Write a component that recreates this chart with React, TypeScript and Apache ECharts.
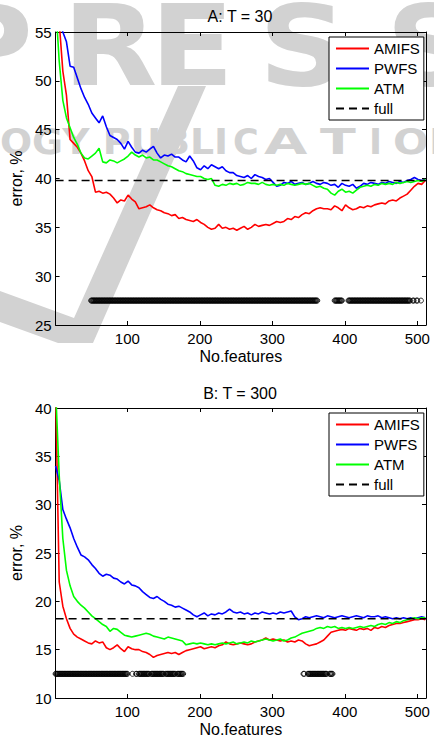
import React, { useEffect, useRef } from "react";
import * as echarts from "echarts";

const FONT = '"Liberation Sans", Arial, Helvetica, sans-serif';

// feature counts sampled every 5 features (1, 6, 11, ... 511)
const FEATURES: number[] = Array.from({ length: 103 }, (_, i) => 1 + 5 * i);

const X_TICKS = [100, 200, 300, 400, 500];

// ---- Panel A: T = 30 ----
const A_AMIFS = [
  58, 56, 51, 48.5, 44, 43.6, 43.2, 42.6, 41.8, 40.8,
  40.2, 38.6, 38.7, 38.5, 38.6, 38.4, 38.0, 37.5, 37.8, 37.7,
  38.3, 37.9, 37.6, 36.9, 37.0, 37.1, 37.3, 37.0, 36.8, 36.7,
  36.5, 36.4, 36.2, 36.3, 35.9, 36.0, 35.8, 35.7, 35.6, 35.8,
  35.5, 35.3, 35.0, 34.8, 34.9, 35.3, 34.9, 35.0, 34.8, 34.9,
  34.7, 34.9, 35.1, 34.8, 35.0, 35.3, 35.1, 35.2, 35.3, 35.2,
  35.4, 35.6, 35.5, 35.6, 35.9, 35.8, 36.1, 36.0, 36.3, 36.5,
  36.4, 36.7, 36.9, 37.0, 36.9, 36.9, 36.8, 37.2, 37.0, 36.7,
  37.3, 37.0, 36.8, 36.9, 37.1, 37.0, 37.2, 37.1, 37.3, 37.4,
  37.5, 37.4, 37.7, 37.8, 37.7, 38.0, 38.2, 38.4, 38.8, 39.2,
  39.5, 39.4, 39.8,
];
const A_PWFS = [
  58, 56, 55, 54, 51.5, 51.4, 50.3, 49.2, 48.3, 47.6,
  46.7, 46.2, 45.7, 46.4, 45.3, 44.4, 44.2, 44.0, 43.6, 43.0,
  43.8, 43.2, 42.7, 42.6, 42.9, 42.7, 43.0, 43.3, 42.6, 42.1,
  42.4, 42.3, 42.5, 42.2, 42.2, 41.9, 41.7, 42.3, 41.8, 41.1,
  40.9, 41.3, 41.0, 41.4, 41.2, 41.0, 41.2, 40.8, 40.6, 40.6,
  40.3, 40.2, 40.1, 40.3, 40.0, 40.4, 40.2, 40.1, 39.9, 40.0,
  39.6, 39.2, 39.3, 39.6, 39.5, 39.7, 39.4, 39.5, 39.6, 39.4,
  39.5, 39.7, 39.5, 39.4, 39.6, 39.5, 39.3, 39.4, 39.1, 39.5,
  39.3, 39.2, 39.4, 39.0, 39.2, 39.5, 39.4, 39.6, 39.5, 39.4,
  39.6, 39.5, 39.7, 39.6, 39.5, 39.7, 39.6, 39.8, 39.9, 40.1,
  39.9, 39.8, 39.9,
];
const A_ATM = [
  58, 52, 48, 46.2, 45.2, 44.2, 43.5, 42.6, 42.1, 42.0,
  42.3, 42.6, 43.1, 41.7, 41.6, 41.9, 41.8, 41.6, 41.8, 42.0,
  42.3, 42.7, 42.4, 42.2, 42.4, 42.1, 42.2, 41.9, 41.9, 41.7,
  41.5, 41.3, 41.2, 41.0, 40.8, 40.7, 40.5, 40.4, 40.3, 40.2,
  40.2, 40.0, 39.9, 40.0, 39.3, 39.2, 39.4, 39.3, 39.5, 39.4,
  39.5, 39.3, 39.4, 39.6, 39.5, 39.5, 39.4, 39.6, 39.4, 39.3,
  39.4, 39.3, 39.4, 39.3, 39.5, 39.4, 39.3, 39.4, 39.5, 39.4,
  39.5, 39.3, 39.1, 39.2, 39.0, 38.9, 38.5, 38.3, 38.7, 38.9,
  38.6, 38.7, 38.5, 38.8, 39.1, 39.2, 39.3, 39.2, 39.4, 39.3,
  39.5, 39.4, 39.5, 39.4, 39.6, 39.5, 39.6, 39.7, 39.6, 39.7,
  39.8, 39.7, 39.9,
];
const A_FULL = 39.8;
const A_MARK_Y = 27.5;
const A_MARK_RANGES = [[50, 362], [386, 396], [405, 490], [494, 495], [499, 500], [505, 505]];

// ---- Panel B: T = 300 ----
const B_AMIFS = [
  42, 22, 19.5, 18.2, 17.2, 16.6, 16.3, 16.1, 15.9, 15.7,
  15.6, 15.9, 15.7, 15.8, 15.2, 15.0, 15.2, 15.5, 15.1, 14.8,
  15.3, 15.1, 15.0, 15.0, 14.8, 14.7, 14.5, 14.2, 14.4, 14.5,
  14.6, 14.7, 14.6, 14.7, 14.5, 14.7, 14.9, 15.0, 15.1, 15.2,
  15.3, 15.1, 15.2, 15.3, 15.2, 15.4, 15.5, 15.8, 15.6, 15.5,
  15.6, 15.7, 15.6, 15.5, 15.6, 15.8, 15.9, 16.0, 16.2, 16.0,
  16.1, 16.0, 15.9, 16.0, 15.8, 15.9, 15.8, 16.0, 15.9, 15.6,
  15.4, 15.5, 15.6, 15.8, 16.0, 16.4, 16.8, 16.9, 17.0, 17.1,
  17.0, 17.2, 17.1, 17.0, 17.2, 17.1, 17.2, 17.0, 17.3, 17.2,
  17.4, 17.3, 17.5, 17.6, 17.7, 17.7, 17.8, 17.9, 18.0, 18.1,
  18.1, 18.2, 18.1,
];
const B_PWFS = [
  34, 32.5, 29.5, 28.5, 27.6, 26.5, 25.6, 24.8, 24.6, 24.3,
  23.8, 23.4, 22.9, 22.6, 22.8, 22.7, 22.4, 22.3, 22.0, 21.8,
  22.1, 21.7, 21.6, 21.4, 21.0, 20.7, 20.4, 20.3, 20.5, 20.2,
  20.0, 19.7, 19.6, 19.4, 19.5, 19.3, 19.1, 18.9, 18.6, 18.4,
  18.6, 18.8, 18.5, 18.7, 18.6, 18.8, 18.7, 18.9, 19.2, 18.9,
  18.8, 18.9, 18.7, 18.8, 18.6, 18.8, 18.7, 18.9, 18.8, 18.7,
  18.8, 18.7, 18.9, 18.8, 18.9, 19.0, 18.4, 18.1, 18.2, 18.4,
  18.3, 18.4, 18.5, 18.4, 18.3, 18.5, 18.4, 18.3, 18.4, 18.5,
  18.4, 18.3, 18.4, 18.5, 18.4, 18.3, 18.5, 18.4, 18.4, 18.5,
  18.3, 18.4, 18.3, 18.2, 18.3, 18.2, 18.3, 18.2, 18.3, 18.2,
  18.3, 18.4, 18.3,
];
const B_ATM = [
  42, 33, 26.5, 23.2, 21.6, 20.5, 20.0, 19.6, 19.3, 18.9,
  18.5, 18.2, 17.9, 17.6, 17.4, 16.9, 17.2, 17.1, 16.8, 16.5,
  16.4, 16.3, 16.4, 16.5, 16.6, 16.7, 16.6, 16.4, 16.3, 16.2,
  16.1, 16.3, 16.2, 16.1, 16.0, 15.9, 15.5, 15.6, 15.7, 15.6,
  15.7, 15.6, 15.5, 15.6, 15.5, 15.6, 15.7, 15.6, 15.7, 15.8,
  15.6, 15.7, 15.8, 15.7, 15.9, 15.8, 15.9, 16.0, 16.1, 16.0,
  15.9, 16.0, 16.1, 15.9, 16.0, 16.2, 16.3, 16.5, 16.7, 16.8,
  16.9, 17.0, 17.2, 17.3, 17.2, 17.4, 17.3, 17.4, 17.2, 17.3,
  17.2, 17.3, 17.2, 17.3, 17.4, 17.3, 17.4, 17.5, 17.4, 17.6,
  17.7, 17.6, 17.8, 17.7, 17.9, 17.8, 18.0, 18.1, 18.2, 18.3,
  18.2, 18.3, 18.3,
];
const B_FULL = 18.2;
const B_MARK_Y = 12.5;
const B_MARK_RANGES = [[1, 100], [107, 107], [112, 113], [116, 130], [133, 150], [153, 166], [169, 177], [343, 344], [349, 375], [379, 383]];

const NAMES = ["AMIFS", "PWFS", "ATM", "full"];
const COLORS = ["#ff0000", "#0000ff", "#00ff00", "#000000"];

function expandRanges(ranges: number[][], y: number) {
  const out: number[][] = [];
  ranges.forEach(([a, b]) => {
    for (let f = a; f <= b; f++) out.push([f, y]);
  });
  return out;
}

function buildPanel(idx: number, series: number[][], full: number, markY: number, ranges: number[][]) {
  const xi = idx * 2;
  const yi = idx * 2;
  const res: any[] = series.map((vals, k) => ({
    type: "line",
    name: NAMES[k],
    xAxisIndex: xi,
    yAxisIndex: yi,
    data: FEATURES.map((x, i) => [x, vals[i]]),
    showSymbol: false,
    symbol: "none",
    clip: true,
    lineStyle: { color: COLORS[k], width: 1.6 },
    itemStyle: { color: COLORS[k] },
    z: 3,
  }));
  res.push({
    type: "line",
    name: "full",
    xAxisIndex: xi,
    yAxisIndex: yi,
    data: [[1, full], [512, full]],
    showSymbol: false,
    symbol: "none",
    lineStyle: { color: "#000", width: 1.6, type: [8, 5] },
    itemStyle: { color: "#000" },
    z: 4,
  });
  res.push({
    type: "scatter",
    name: "marks" + idx,
    xAxisIndex: xi,
    yAxisIndex: yi,
    data: expandRanges(ranges, markY),
    symbol: "circle",
    symbolSize: 5,
    itemStyle: { color: "rgba(255,255,255,0)", borderColor: "#000", borderWidth: 1 },
    z: 5,
  });
  return res;
}

const axisLineStyle = { show: true, onZero: false, lineStyle: { color: "#000", width: 1 } };
const tickStyle = { show: true, inside: true, length: 4, lineStyle: { color: "#000", width: 1 } };

function xAxes(grid: number) {
  return [
    {
      type: "value", gridIndex: grid, position: "bottom", min: 1, max: 512,
      axisLine: axisLineStyle,
      axisTick: { ...tickStyle, customValues: X_TICKS },
      axisLabel: { customValues: X_TICKS, color: "#000", fontSize: 15, fontFamily: FONT, margin: 6 },
      splitLine: { show: false },
      name: "No.features", nameLocation: "middle", nameGap: 23,
      nameTextStyle: { color: "#000", fontSize: 16, fontFamily: FONT },
    },
    {
      type: "value", gridIndex: grid, position: "top", min: 1, max: 512,
      axisLine: axisLineStyle,
      axisTick: { ...tickStyle, customValues: X_TICKS },
      axisLabel: { show: false },
      splitLine: { show: false },
    },
  ];
}

function yAxes(grid: number, min: number, max: number) {
  return [
    {
      type: "value", gridIndex: grid, position: "left", min, max, interval: 5,
      axisLine: axisLineStyle,
      axisTick: tickStyle,
      axisLabel: { color: "#000", fontSize: 15, fontFamily: FONT, margin: 4 },
      splitLine: { show: false },
      name: "error, %", nameLocation: "middle", nameGap: 27,
      nameTextStyle: { color: "#000", fontSize: 16, fontFamily: FONT },
    },
    {
      type: "value", gridIndex: grid, position: "right", min, max, interval: 5,
      axisLine: axisLineStyle,
      axisTick: tickStyle,
      axisLabel: { show: false },
      splitLine: { show: false },
    },
  ];
}

function legend(top: number) {
  return {
    data: NAMES,
    orient: "vertical",
    left: 329,
    top,
    itemWidth: 33,
    itemHeight: 14,
    itemGap: 5,
    padding: [4, 4, 4, 6],
    backgroundColor: "#ffffff",
    borderColor: "#000",
    borderWidth: 1,
    borderRadius: 0,
    itemStyle: { opacity: 0 },
    textStyle: { color: "#000", fontSize: 15, fontFamily: FONT },
    z: 20,
  };
}

const WM = "#d2d2d2";
function watermark() {
  const big = [
    { ch: "P", cx: -12 },
    { ch: "R", cx: 110 },
    { ch: "E", cx: 192 },
    { ch: "S", cx: 303 },
    { ch: "S", cx: 430 },
  ].map((l) => ({
    type: "text", x: l.cx, y: 46, scaleX: 1.1, z: -5, silent: true,
    style: { text: l.ch, fill: WM, font: 'bold 112px "DejaVu Sans"', textAlign: "center", textVerticalAlign: "middle" },
  }));
  const small = [
    { t: "OGY PUBLI", x: 0, s: 1.08 },
    { t: "C", x: 233, s: 1 },
    { t: "A", x: 264, s: 1.6 },
    { t: "T", x: 320, s: 1.5 },
    { t: "I", x: 369, s: 1 },
    { t: "ONS", x: 393, s: 1.2 },
  ].map((p) => ({
    type: "text", x: p.x, y: 142, scaleX: p.s, z: -5, silent: true,
    style: { text: p.t, fill: WM, font: 'bold 35px "DejaVu Sans"', textAlign: "left", textVerticalAlign: "middle" },
  }));
  const swoosh = {
    type: "polygon", z: -5, silent: true,
    shape: { points: [[178, 86], [206, 86], [93, 343], [58, 343], [0, 322], [0, 291], [74, 318]] },
    style: { fill: WM },
  };
  return [swoosh, ...big, ...small];
}

export default function App() {
  const ref = useRef<HTMLDivElement>(null);
  useEffect(() => {
    document.body.style.margin = "0";
    if (!ref.current) return;
    const chart = echarts.init(ref.current, null, { renderer: "svg" });
    const option: any = {
      animation: false,
      backgroundColor: "#ffffff",
      textStyle: { fontFamily: FONT },
      grid: [
        { left: 55, top: 32, width: 371, height: 293 },
        { left: 55, top: 408, width: 371, height: 294 },
      ],
      xAxis: [...xAxes(0), ...xAxes(1)],
      yAxis: [...yAxes(0, 25, 55), ...yAxes(1, 10, 40)],
      legend: [legend(37), legend(413)],
      graphic: [
        ...watermark(),
        {
          type: "text", x: 240, y: 16, z: 10,
          style: { text: "A: T = 30", fill: "#000", font: `16px ${FONT}`, textAlign: "center", textVerticalAlign: "middle" },
        },
        {
          type: "text", x: 240, y: 393, z: 10,
          style: { text: "B: T = 300", fill: "#000", font: `16px ${FONT}`, textAlign: "center", textVerticalAlign: "middle" },
        },
      ],
      series: [
        ...buildPanel(0, [A_AMIFS, A_PWFS, A_ATM], A_FULL, A_MARK_Y, A_MARK_RANGES),
        ...buildPanel(1, [B_AMIFS, B_PWFS, B_ATM], B_FULL, B_MARK_Y, B_MARK_RANGES),
      ],
    };
    chart.setOption(option);
    return () => chart.dispose();
  }, []);
  return <div ref={ref} style={{ width: 434, height: 738 }} />;
}
